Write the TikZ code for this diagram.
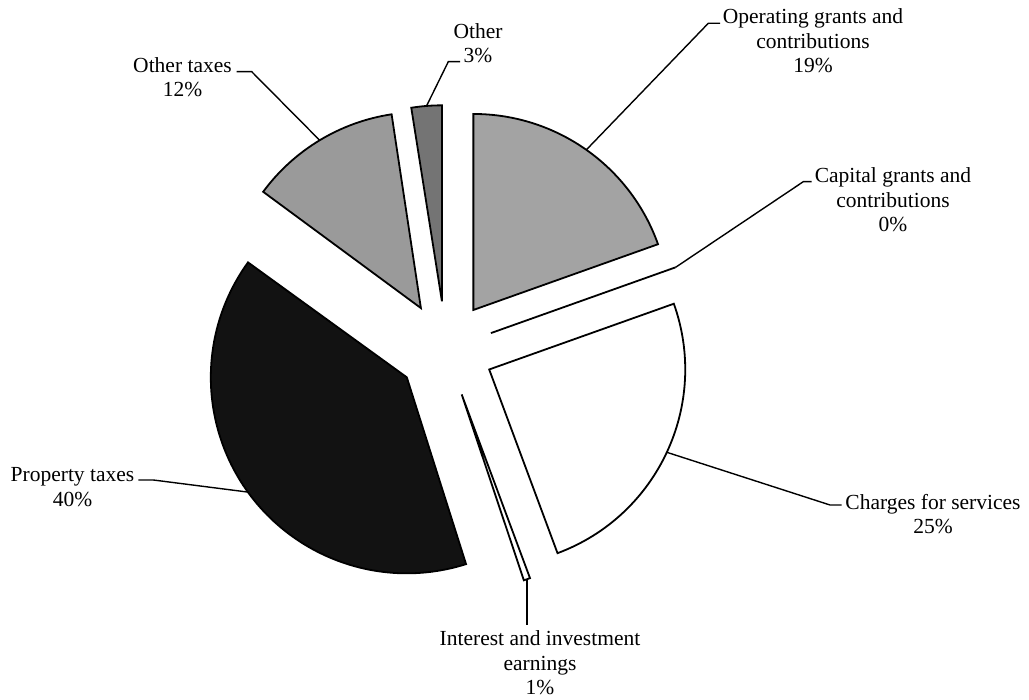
\documentclass[tikz,border=0pt]{standalone}
\usepackage{fontspec}
\setmainfont{Liberation Serif}
\usetikzlibrary{calc}
\definecolor{opgray}{HTML}{A3A3A3}
\definecolor{otgray}{HTML}{9A9A9A}
\definecolor{othgray}{HTML}{747474}
\definecolor{propblack}{HTML}{121212}
\newcommand{\myslice}[4]{%
  \pgfmathsetmacro\midang{(#1+#2)/2}%
  \coordinate (#4apex) at ($(C)+(\midang:48pt)$);
  \draw[slicestyle, fill=#3] (#4apex) -- ++(#1:196pt) arc[start angle=#1, end angle=#2, radius=196pt] -- cycle;
  \coordinate (#4arc) at ($(#4apex)+(\midang:196pt)$);
}
\begin{document}
\begin{tikzpicture}[x=1pt,y=1pt,
  slicestyle/.style={draw=black, line width=1.8pt, line join=miter},
  leader/.style={draw=black, line width=1.4pt},
  lbl/.style={align=center, inner sep=0pt, font=\fontsize{21.5}{24.5}\selectfont}]
\useasboundingbox[fill=white] (0,0) rectangle (1029,700);
\coordinate (C) at (445.7,350.8);
% slices
\myslice{90}{19.6}{opgray}{op}
\myslice{19.6}{-69.6}{white}{ch}
\myslice{-69.6}{-71.5}{white}{int}
\myslice{-72.4}{-215.9}{propblack}{prop}
\myslice{143.6}{98.6}{otgray}{ot}
\myslice{99}{90}{othgray}{oth}
% zero slice
\coordinate (capapex) at ($(C)+(19.6:48pt)$);
\coordinate (caparc) at ($(capapex)+(19.6:196pt)$);
\draw[slicestyle] (capapex) -- (caparc);
% labels
\node[lbl] (oplbl) at (813,659) {Operating grants and\\contributions\\19\%};
\node[lbl] (caplbl) at (893,500) {Capital grants and\\contributions\\0\%};
\node[lbl] (chlbl) at (933,186) {Charges for services\\25\%};
\node[lbl] (intlbl) at (540,37) {Interest and investment\\earnings\\1\%};
\node[lbl] (proplbl) at (72.5,213) {Property taxes\\40\%};
\node[lbl] (otlbl) at (182.5,623) {Other taxes\\12\%};
\node[lbl] (othlbl) at (478,657) {Other\\3\%};
% leader elbows and ends
\coordinate (opelb) at (708.3,676.7);  \coordinate (opend) at (720,676.7);
\coordinate (capelb) at (803.3,518.3); \coordinate (capend) at (811.7,518.3);
\coordinate (chelb) at (830,195);      \coordinate (chend) at (841.7,195);
\coordinate (intend) at (527,75);
\coordinate (propelb) at (153.3,220);  \coordinate (propend) at (138.3,220);
\coordinate (otelb) at (251.7,628.3);  \coordinate (otend) at (236.7,628.3);
\coordinate (othelb) at (448.3,638.3); \coordinate (othend) at (460,638.3);
\draw[leader] (oparc) -- (opelb) -- (opend);
\draw[leader] (caparc) -- (capelb) -- (capend);
\draw[leader] (charc) -- (chelb) -- (chend);
\draw[leader] (intarc) -- (intarc |- intend);
\draw[leader] (proparc) -- (propelb) -- (propend);
\draw[leader] (otarc) -- (otelb) -- (otend);
\draw[leader] (otharc) -- (othelb) -- (othend);
\end{tikzpicture}
\end{document}
